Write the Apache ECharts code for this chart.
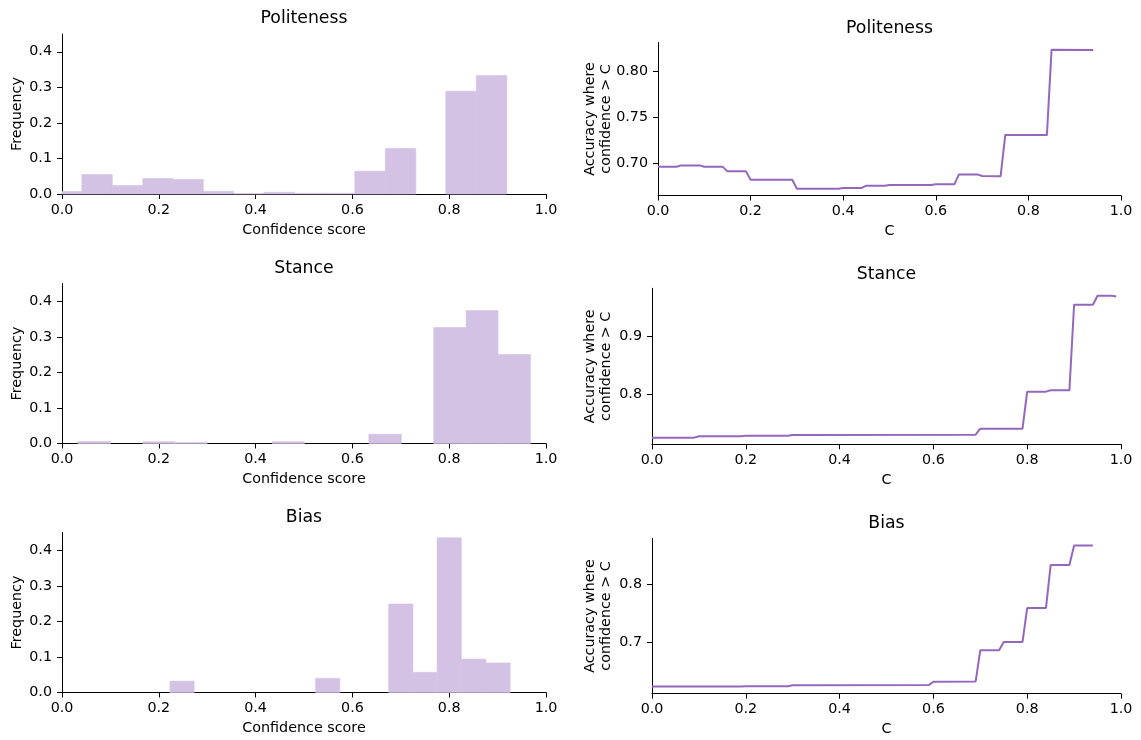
<!DOCTYPE html>
<html>
<head>
<meta charset="utf-8">
<script src="https://cdn.jsdelivr.net/npm/echarts@6/dist/echarts.min.js"></script>
<style>
html,body{margin:0;padding:0;background:#fff;}
#chart{width:1141px;height:740px;}
</style>
</head>
<body>
<div id="chart"></div>
<script>
// ---------------- data ----------------
const panelTitles = ['Politeness', 'Stance', 'Bias'];

// histogram bin edges and frequencies
const politenessEdges = [-0.021, 0.041, 0.104, 0.167, 0.229, 0.292, 0.355, 0.417, 0.480, 0.543, 0.605, 0.668, 0.731, 0.793, 0.856, 0.919];
const politenessFreq  = [0.007, 0.055, 0.024, 0.044, 0.041, 0.0075, 0.001, 0.005, 0.002, 0.002, 0.064, 0.128, 0.0, 0.289, 0.333];

const stanceEdges = [0.033, 0.100, 0.167, 0.233, 0.300, 0.367, 0.434, 0.501, 0.567, 0.634, 0.701, 0.768, 0.835, 0.901, 0.968];
const stanceFreq  = [0.0056, 0.0, 0.005, 0.003, 0.0, 0.0, 0.005, 0.0, 0.0, 0.026, 0.0, 0.326, 0.374, 0.250];

const biasEdges = [0.223, 0.273, 0.323, 0.374, 0.424, 0.474, 0.524, 0.574, 0.624, 0.675, 0.725, 0.775, 0.825, 0.876, 0.926];
const biasFreq  = [0.032, 0.0, 0.0, 0.0, 0.0, 0.0, 0.040, 0.0, 0.0, 0.249, 0.057, 0.435, 0.094, 0.083];

// accuracy where confidence > C
const politenessC   = [0, 0.04, 0.05, 0.09, 0.10, 0.14, 0.15, 0.19, 0.20, 0.29, 0.30, 0.39, 0.40, 0.44, 0.45, 0.49, 0.50, 0.59, 0.60, 0.64, 0.65, 0.69, 0.70, 0.74, 0.75, 0.84, 0.85, 0.94];
const politenessAcc = [0.6964, 0.6964, 0.6978, 0.6978, 0.6964, 0.6962, 0.6913, 0.6913, 0.6822, 0.6822, 0.6724, 0.6724, 0.6732, 0.6732, 0.6757, 0.6757, 0.6764, 0.6764, 0.6772, 0.6772, 0.6880, 0.6880, 0.6862, 0.6860, 0.7308, 0.7308, 0.8239, 0.8236];

const stanceC   = [0, 0.09, 0.10, 0.19, 0.20, 0.29, 0.30, 0.69, 0.70, 0.79, 0.80, 0.84, 0.85, 0.89, 0.90, 0.94, 0.95, 0.98, 0.99];
const stanceAcc = [0.7238, 0.7238, 0.7262, 0.7262, 0.7273, 0.7273, 0.7285, 0.7290, 0.7395, 0.7395, 0.8041, 0.8041, 0.8064, 0.8064, 0.9558, 0.9558, 0.9715, 0.9715, 0.9703];

const biasC   = [0, 0.19, 0.20, 0.29, 0.30, 0.59, 0.60, 0.69, 0.70, 0.74, 0.75, 0.79, 0.80, 0.84, 0.85, 0.89, 0.90, 0.94];
const biasAcc = [0.6231, 0.6231, 0.6237, 0.6237, 0.6254, 0.6258, 0.6315, 0.6318, 0.6861, 0.6861, 0.7006, 0.7006, 0.7595, 0.7595, 0.8341, 0.8341, 0.8682, 0.8682];

// axis ticks and ranges
const xTicks = [0, 0.2, 0.4, 0.6, 0.8, 1.0];
const freqTicks = [0, 0.1, 0.2, 0.3, 0.4];
const freqMax = 0.45;
const politenessAccTicks = [0.70, 0.75, 0.80];
const stanceAccTicks = [0.8, 0.9];
const biasAccTicks = [0.7, 0.8];
const politenessAccRange = [0.6650, 0.8317];
const stanceAccRange = [0.7122, 0.9845];
const biasAccRange = [0.6108, 0.8806];

// ---------------- styling / layout ----------------
const FONT = 'DejaVu Sans';
const FS = 14.3;
const TFS = 17.3;
const FILL = '#d4c2e5';
const LINE = '#9467bd';
const grids = [
  {left: 62,  top: 34,    width: 484, height: 160},
  {left: 658, top: 42.5,  width: 463, height: 153},
  {left: 62,  top: 283.5, width: 484, height: 160},
  {left: 652, top: 288.3, width: 469, height: 156},
  {left: 62,  top: 532.5, width: 484, height: 160},
  {left: 652, top: 538.3, width: 469, height: 155.4}
];

function xAxisFor(i, name) {
  return {
    type: 'value', gridIndex: i, min: 0, max: 1, interval: 0.2,
    name: name, nameLocation: 'middle', nameGap: 29,
    nameTextStyle: {color: '#000', fontFamily: FONT, fontSize: FS},
    axisLine: {show: true, onZero: false, lineStyle: {color: '#000', width: 1}},
    axisTick: {show: true, length: 5, lineStyle: {color: '#000', width: 1}, customValues: xTicks},
    axisLabel: {color: '#000', fontFamily: FONT, fontSize: FS, margin: 9,
      customValues: xTicks, formatter: v => v.toFixed(1)},
    splitLine: {show: false}
  };
}
function yAxisFor(i, range, ticks, dec, name, gap, noMove) {
  const ax = {
    type: 'value', gridIndex: i, min: range[0], max: range[1],
    name: name, nameLocation: 'middle', nameGap: gap,
    nameTextStyle: {color: '#000', fontFamily: FONT, fontSize: FS, lineHeight: 16.5},
    axisLine: {show: true, onZero: false, lineStyle: {color: '#000', width: 1}},
    axisTick: {show: true, length: 5, lineStyle: {color: '#000', width: 1}, customValues: ticks},
    axisLabel: {color: '#000', fontFamily: FONT, fontSize: FS, margin: 10,
      customValues: ticks, formatter: v => v.toFixed(dec), showMinLabel: true, showMaxLabel: true},
    splitLine: {show: false}
  };
  if (noMove) ax.nameMoveOverlap = false;
  return ax;
}

function histData(edges, freq) {
  return freq.map((f, k) => [edges[k], edges[k + 1], f]);
}
function lineData(cs, accs) {
  return cs.map((c, k) => [c, accs[k]]);
}
function renderBin(params, api) {
  if (!(api.value(2) > 0)) return null;
  const p0 = api.coord([api.value(0), api.value(2)]);
  const p1 = api.coord([api.value(1), 0]);
  const rect = echarts.graphic.clipRectByRect(
    {x: p0[0], y: p0[1], width: p1[0] - p0[0], height: p1[1] - p0[1]},
    {x: params.coordSys.x, y: params.coordSys.y, width: params.coordSys.width, height: params.coordSys.height}
  );
  return rect && {type: 'rect', shape: rect, style: {fill: FILL, stroke: FILL, lineWidth: 0.6}};
}

const ylabel2 = 'Accuracy where\nconfidence > C';
const yAxes = [
  yAxisFor(0, [0, freqMax], freqTicks, 1, 'Frequency', 36),
  yAxisFor(1, politenessAccRange, politenessAccTicks, 2, ylabel2, 43, true),
  yAxisFor(2, [0, freqMax], freqTicks, 1, 'Frequency', 36),
  yAxisFor(3, stanceAccRange, stanceAccTicks, 1, ylabel2, 37, true),
  yAxisFor(4, [0, freqMax], freqTicks, 1, 'Frequency', 36),
  yAxisFor(5, biasAccRange, biasAccTicks, 1, ylabel2, 37, true)
];
const xAxes = [0,1,2,3,4,5].map(i => xAxisFor(i, i % 2 === 0 ? 'Confidence score' : 'C'));

const hists = [histData(politenessEdges, politenessFreq), histData(stanceEdges, stanceFreq), histData(biasEdges, biasFreq)];
const lines = [lineData(politenessC, politenessAcc), lineData(stanceC, stanceAcc), lineData(biasC, biasAcc)];

const series = [];
for (let r = 0; r < 3; r++) {
  series.push({
    type: 'custom', xAxisIndex: 2 * r, yAxisIndex: 2 * r,
    renderItem: renderBin, encode: {x: [0, 1], y: 2}, data: hists[r], silent: true
  });
  series.push({
    type: 'line', xAxisIndex: 2 * r + 1, yAxisIndex: 2 * r + 1,
    data: lines[r], showSymbol: false, symbol: 'none', smooth: false,
    lineStyle: {color: LINE, width: 2}, itemStyle: {color: LINE}, silent: true, clip: true
  });
}

// titles centred over each axes box
const titleY = [[19, 29], [269, 275], [518, 524]];
const graphics = [];
for (let r = 0; r < 3; r++) {
  for (let c = 0; c < 2; c++) {
    const g = grids[2 * r + c];
    graphics.push({
      type: 'text', x: g.left + g.width / 2, y: titleY[r][c],
      style: {text: panelTitles[r], fill: '#000', font: TFS + 'px "DejaVu Sans"', align: 'center', verticalAlign: 'middle'}
    });
  }
}

const chart = echarts.init(document.getElementById('chart'), null, {renderer: 'canvas'});
chart.setOption({
  animation: false,
  backgroundColor: '#fff',
  grid: grids.map(g => Object.assign({containLabel: false}, g)),
  xAxis: xAxes,
  yAxis: yAxes,
  series: series,
  graphic: graphics
});
</script>
</body>
</html>
